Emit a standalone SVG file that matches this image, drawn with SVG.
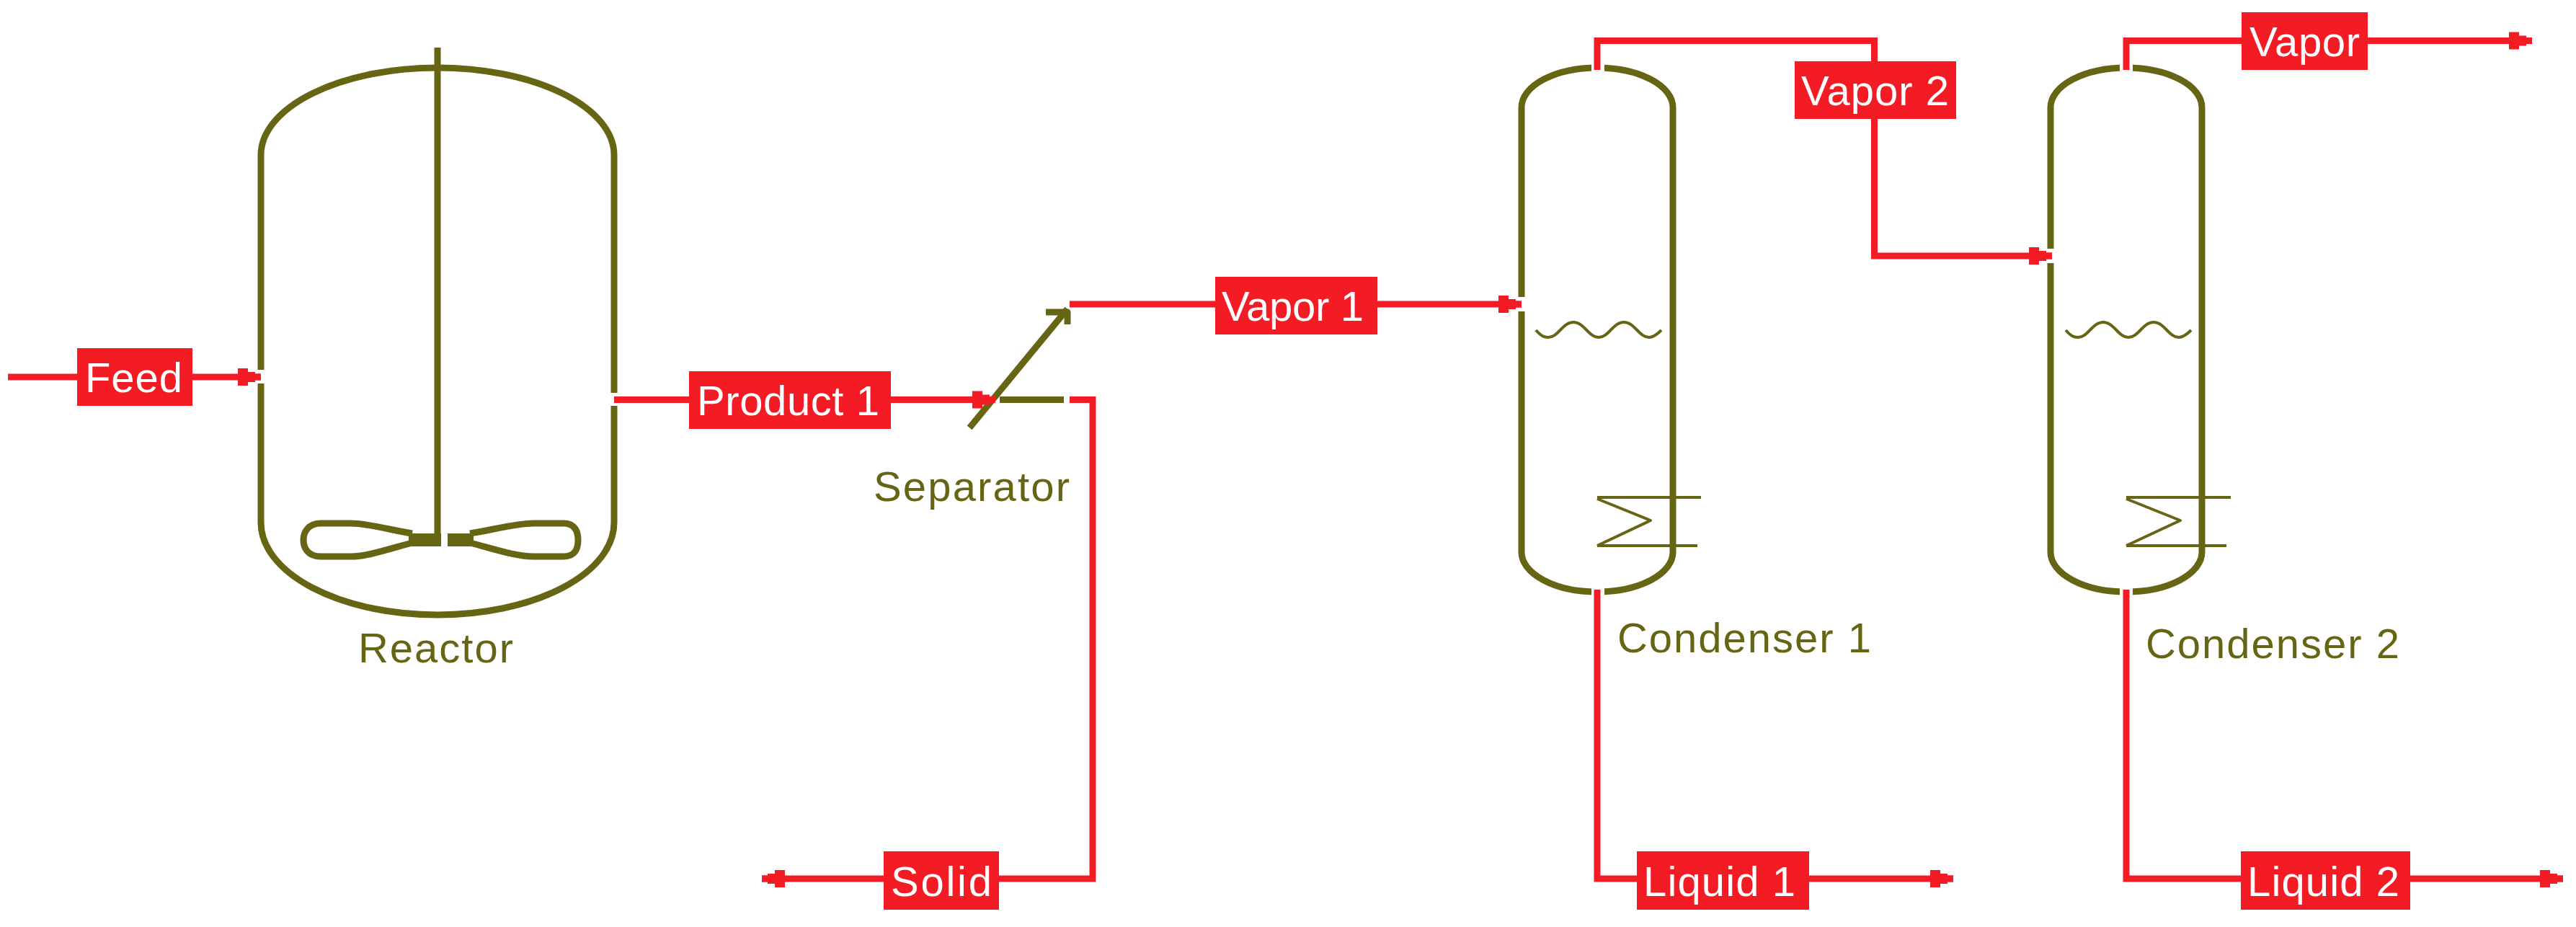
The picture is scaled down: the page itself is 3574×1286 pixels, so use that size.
<svg xmlns="http://www.w3.org/2000/svg" width="3574" height="1286" viewBox="0 0 3574 1286">
<style>
.eq{fill:none;stroke:#666514;stroke-width:9;stroke-linejoin:round}
.thin{fill:none;stroke:#666514;stroke-width:4;stroke-linejoin:round}
.gap{fill:#fff}
.stream{fill:none;stroke:#F41C24;stroke-width:9;stroke-linejoin:miter;marker-end:url(#ah)}
.lbl rect{fill:#F41C24}
.lbl text{fill:#fff;font-family:"Liberation Sans",Arial,sans-serif;font-size:58px}
.name{fill:#666514;font-family:"Liberation Sans",Arial,sans-serif;font-size:58px}
</style>
<defs>
<marker id="ah" markerUnits="userSpaceOnUse" markerWidth="40" markerHeight="30" refX="0" refY="0" orient="auto" overflow="visible">
<path d="M0,-4.5 H-8 V-7 H-18 V-12 H-32 V12 H-18 V7 H-8 V4.5 H0 Z" fill="#F41C24"/>
</marker>
</defs>
<rect width="3574" height="1286" fill="#fff"/>

<g id="reactor">
<path class="eq" d="M362,215 V725 A245,128 0 0 0 852,725 V215 A245,121 0 0 0 362,215 Z"/>
<line class="eq" x1="607" y1="66" x2="607" y2="745"/>
<path class="eq" d="M572,740 C545,736 510,726 487,726 L445,726 C428,726 421,738 421,749 C421,761 428,772 445,772 L487,772 C510,772 545,760 572,753"/>
<path class="eq" d="M652,740 C680,736 715,726 740,726 L782,726 C798,726 802,738 802,749 C802,761 798,772 782,772 L740,772 C715,772 680,760 652,753"/>
<rect x="567" y="740" width="45" height="18" fill="#666514"/>
<rect x="621" y="740" width="36" height="18" fill="#666514"/>
<rect class="gap" x="355" y="513" width="14" height="19"/>
<rect class="gap" x="845" y="545" width="14" height="18"/>
<text class="name" x="497" y="919" textLength="215">Reactor</text>
</g>

<g id="separator">
<line class="eq" stroke-linecap="square" x1="1348" y1="590" x2="1478" y2="432"/>
<path class="eq" stroke-linejoin="miter" d="M1451,433 H1481 V450"/>
<line class="eq" x1="1387" y1="554.5" x2="1476" y2="554.5"/>
<text class="name" x="1212" y="695" textLength="272">Separator</text>
</g>

<g id="condenser1">
<path class="eq" d="M2111,149 V766 A105,55 0 0 0 2321,766 V149 A105,55 0 0 0 2111,149 Z"/>
<path class="thin" d="M2131,458 C2138,466 2142,468 2148,468 C2162,468 2168,447 2183,447 C2198,447 2204,468 2218,468 C2232,468 2238,447 2253,447 C2268,447 2274,468 2288,468 C2294,468 2300,463 2305,458"/>
<path class="thin" d="M2216,690 H2360 M2216,757 H2355 M2216,692 L2290,722 L2216,757"/>
<rect class="gap" x="2208" y="86" width="18" height="16"/>
<rect class="gap" x="2208" y="812" width="18" height="16"/>
<rect class="gap" x="2104" y="412" width="14" height="20"/>
<text class="name" x="2244" y="905" textLength="352">Condenser 1</text>
</g>

<g id="condenser2">
<path class="eq" d="M2845,149 V766 A105,55 0 0 0 3055,766 V149 A105,55 0 0 0 2845,149 Z"/>
<path class="thin" d="M2866,458 C2873,466 2877,468 2883,468 C2897,468 2903,447 2918,447 C2933,447 2939,468 2953,468 C2967,468 2973,447 2988,447 C3003,447 3009,468 3023,468 C3029,468 3035,463 3040,458"/>
<path class="thin" d="M2950,690 H3095 M2950,757 H3089 M2950,692 L3025,722 L2950,757"/>
<rect class="gap" x="2941" y="86" width="18" height="16"/>
<rect class="gap" x="2941" y="812" width="18" height="16"/>
<rect class="gap" x="2838" y="345" width="14" height="20"/>
<text class="name" x="2977" y="913" textLength="352">Condenser 2</text>
</g>

<g id="connectors">
<path id="s-feed" class="stream" d="M11,523 H362"/>
<path id="s-product1" class="stream" d="M852,554.5 H1381"/>
<path id="s-vapor1" class="stream" d="M1484,422 H2111"/>
<path id="s-solid" class="stream" d="M1484,554.5 H1516 V1219 H1057"/>
<path id="s-vapor2" class="stream" d="M2216,97 V56.5 H2600.5 V355 H2847"/>
<path id="s-liquid1" class="stream" d="M2216,818 V1219 H2710"/>
<path id="s-vapor" class="stream" d="M2950,97 V56.5 H3513"/>
<path id="s-liquid2" class="stream" d="M2950,818 V1219 H3556"/>
</g>

<g id="stream-labels">
<g id="lbl-feed" class="lbl"><rect x="107" y="483" width="160" height="80"/><text x="118" y="544" textLength="135">Feed</text></g>
<g id="lbl-product1" class="lbl"><rect x="956" y="515" width="280" height="80"/><text x="967" y="576" textLength="253">Product 1</text></g>
<g id="lbl-vapor1" class="lbl"><rect x="1686" y="384" width="225" height="80"/><text x="1695" y="445" textLength="197">Vapor 1</text></g>
<g id="lbl-vapor2" class="lbl"><rect x="2490" y="85" width="224" height="80"/><text x="2499" y="146" textLength="205">Vapor 2</text></g>
<g id="lbl-vapor" class="lbl"><rect x="3110" y="17" width="175" height="80"/><text x="3121" y="78" textLength="153">Vapor</text></g>
<g id="lbl-solid" class="lbl"><rect x="1226" y="1181" width="160" height="81"/><text x="1236" y="1243" textLength="140">Solid</text></g>
<g id="lbl-liquid1" class="lbl"><rect x="2271" y="1181" width="239" height="81"/><text x="2280" y="1243" textLength="211">Liquid 1</text></g>
<g id="lbl-liquid2" class="lbl"><rect x="3109" y="1181" width="235" height="81"/><text x="3118" y="1243" textLength="211">Liquid 2</text></g>
</g>
</svg>
